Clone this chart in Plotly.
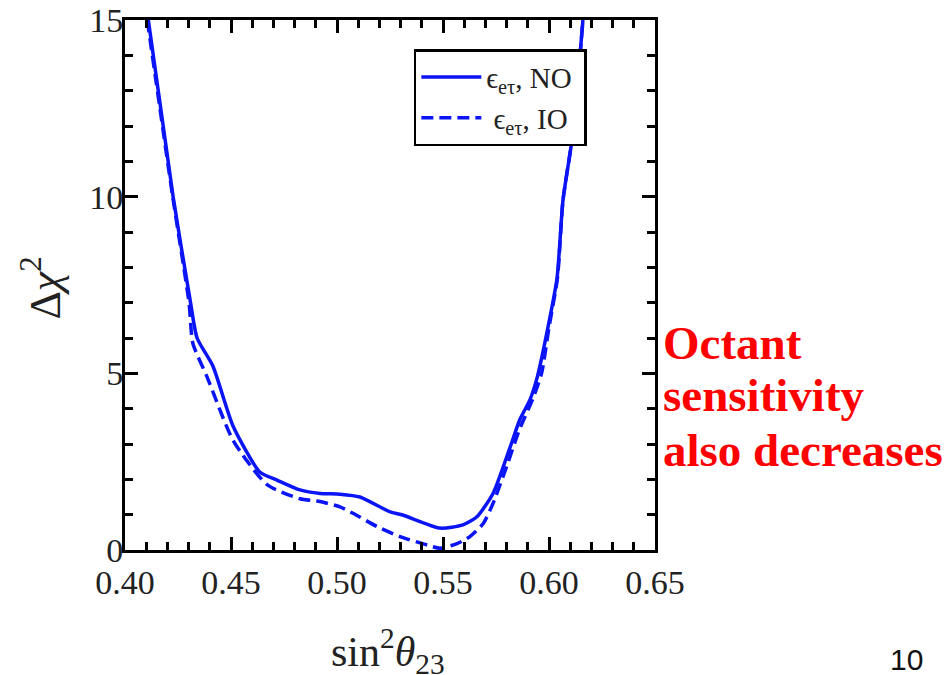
import plotly.graph_objects as go

# Data
x_no = [0.411, 0.4227, 0.4307, 0.434, 0.4415, 0.451, 0.4637, 0.4717, 0.4825, 0.492, 0.5014, 0.5108,
        0.525, 0.531, 0.5486, 0.5594, 0.566, 0.5736, 0.5816, 0.5863, 0.591, 0.5945, 0.5995, 0.6038,
        0.6066, 0.6113, 0.616]
y_no = [15, 10, 7.08, 6.0, 5.2, 3.5, 2.2, 1.98, 1.7, 1.6, 1.58, 1.5,
        1.08, 0.99, 0.62, 0.71, 0.94, 1.6, 2.9, 3.7, 4.25, 4.9, 6.3, 7.7,
        9.9, 11.8, 15]

x_io = [0.4105, 0.4225, 0.4302, 0.432, 0.4387, 0.451, 0.467, 0.4825, 0.492, 0.5014, 0.5075, 0.519,
        0.5297, 0.5425, 0.5486, 0.5566, 0.5627, 0.569, 0.5736, 0.580, 0.586, 0.5925, 0.5965, 0.600,
        0.604, 0.6066, 0.6113, 0.616]
y_io = [15, 10, 7.0, 5.85, 4.9, 3.1, 1.85, 1.45, 1.37, 1.22, 1.04, 0.66,
        0.38, 0.14, 0.05, 0.18, 0.38, 0.75, 1.32, 2.36, 3.4, 4.3, 5.0, 6.3,
        7.7, 9.9, 11.8, 15]

x_ticks = [0.40, 0.45, 0.50, 0.55, 0.60, 0.65]
y_ticks = [0, 5, 10, 15]
note_lines = ["Octant", "sensitivity", "also decreases"]

SERIF = "Liberation Serif"
BLUE = "#0a14f5"

fig = go.Figure()
fig.add_trace(go.Scatter(x=x_no, y=y_no, mode="lines", name="ϵ<sub>eτ</sub>, NO ",
                         line=dict(color=BLUE, width=3.5, shape="spline", smoothing=0.6)))
fig.add_trace(go.Scatter(x=x_io, y=y_io, mode="lines", name=" ϵ<sub>eτ</sub>, IO",
                         line=dict(color=BLUE, width=3.5, dash="12px,6px", shape="spline", smoothing=0.6)))

axis_common = dict(showgrid=False, zeroline=False, showline=True, linecolor="black", linewidth=3,
                   mirror="allticks", ticks="inside", tickcolor="black", tickwidth=2.5, ticklen=13,
                   automargin=False, ticklabeloverflow="allow",
                   tickfont=dict(family=SERIF, size=34, color="#222"))

fig.update_xaxes(range=[0.40, 0.65], tickvals=x_ticks, ticktext=[f"{v:.2f}" for v in x_ticks],
                 minor=dict(ticks="inside", dtick=0.01, ticklen=8, tickwidth=2.5, tickcolor="black"),
                 **axis_common)
fig.update_yaxes(range=[0, 15], tickvals=y_ticks, ticklabelstandoff=-8,
                 minor=dict(ticks="inside", dtick=1, ticklen=8, tickwidth=2.5, tickcolor="black"),
                 **axis_common)

annotations = [
    dict(text="Δ<i>χ</i><sup>2</sup>", xref="paper", yref="paper", x=-0.158, y=0.494,
         xanchor="center", yanchor="middle",
         textangle=-90, showarrow=False, font=dict(family=SERIF, size=44, color="#222")),
    dict(text="sin<sup>2</sup><i>θ</i><sub>23</sub>", xref="paper", yref="paper", x=0.497, y=-0.19,
         xanchor="center", yanchor="middle", showarrow=False,
         font=dict(family=SERIF, size=42, color="#222")),
    dict(text="10", xref="paper", yref="paper", x=1.474, y=-0.206, xanchor="center",
         yanchor="middle", showarrow=False, font=dict(family="Liberation Sans", size=30, color="#111")),
]
note_y_px = [343, 395, 450]
for line, ypx in zip(note_lines, note_y_px):
    annotations.append(dict(text=f"<b>{line}</b>", xref="paper", yref="paper",
                            x=(661 - 125) / 530, y=(550 - ypx) / 530, xanchor="left", yanchor="middle",
                            align="left", showarrow=False,
                            font=dict(family=SERIF, size=47, color="#ff0000")))

# The page body has an 8px default margin, so the figure is 8px smaller than the window
fig.update_layout(
    width=944, height=667,
    margin=dict(l=117, r=297, t=12, b=125),
    paper_bgcolor="white", plot_bgcolor="white",
    showlegend=True,
    legend=dict(x=0.545, y=0.945, xanchor="left", yanchor="top", itemwidth=60,
                bgcolor="white", bordercolor="black", borderwidth=2.5,
                font=dict(family=SERIF, size=29, color="#222")),
    annotations=annotations,
)

fig.write_html("out.html")
